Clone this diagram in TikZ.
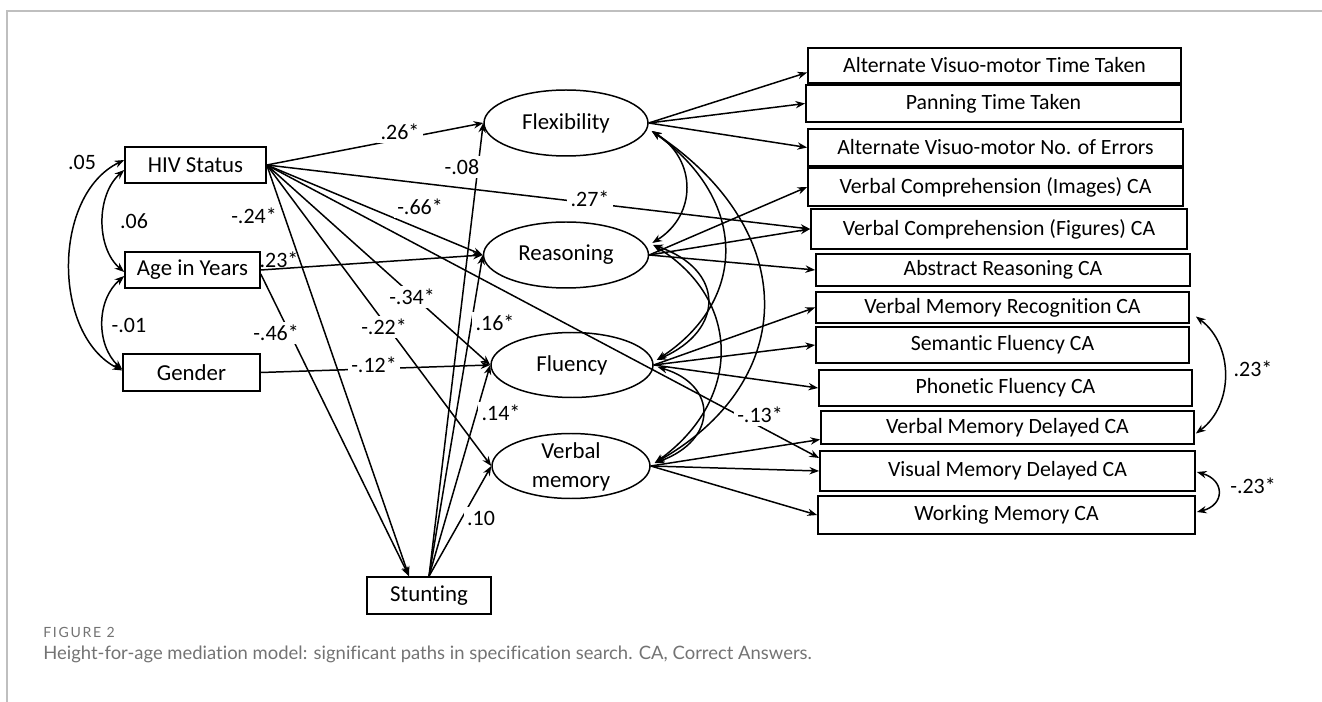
\documentclass[tikz,border=0pt]{standalone}
\usepackage{fontspec}
\setmainfont{Carlito}[RawFeature={-liga;-clig;-calt;-dlig}]
\newfontfamily\capfont{Lato}[RawFeature={-liga;-clig;-calt;-dlig}]
\newfontfamily\figfont{Lato}[LetterSpace=12]
\usetikzlibrary{arrows.meta,calc,shapes.geometric}
\begin{document}
\begin{tikzpicture}[x=0.02cm,y=-0.02cm,
  >={Stealth[length=5.5pt,width=4.2pt]},
  sz/.style 2 args={minimum width=#1*0.02cm,minimum height=#2*0.02cm},
  box/.style={draw,line width=1pt,inner sep=0pt,font=\fontsize{12.4}{14}\selectfont},
  lbox/.style={draw,line width=0.9pt,inner sep=0pt,font=\fontsize{13}{15}\selectfont},
  lat/.style={draw,ellipse,line width=0.85pt,inner sep=0pt,font=\fontsize{13}{16.5}\selectfont,align=center},
  arr/.style={->,line width=0.85pt},
  cov/.style={<->,line width=0.85pt},
  lab/.style={fill=white,inner sep=2pt,font=\fontsize{12.5}{14}\selectfont},
  labn/.style={inner sep=1pt,font=\fontsize{12.5}{14}\selectfont},
  frm/.style={draw=black!25,line width=0.9pt},
  captxt/.style={anchor=west,inner sep=0pt,text=black!55}
]
\useasboundingbox (0,0) rectangle (1322,702);
\draw[frm] (7,702) -- (7,11) -- (1322,11);

% exogenous boxes
\node[lbox,sz={141}{36}] (hiv) at (195.5,165) {HIV Status};
\node[lbox,sz={135}{36}] (age) at (192.5,270) {Age in Years};
\node[lbox,sz={137}{37}] (gen) at (191.5,372.5) {Gender};
\node[lbox,sz={124}{37}] (stunt) at (429,595.5) {Stunting};

% latent variables
\node[lat,sz={164}{66}] (flex) at (566,123) {Flexibility};
\node[lat,sz={165}{66}] (reas) at (566,255) {Reasoning};
\node[lat,sz={162}{65}] (flu) at (572,365) {Fluency};
\node[lat,sz={158}{65}] (vm) at (571,466) {};
\node[font=\fontsize{13}{16.5}\selectfont,align=center,inner sep=0pt] (vmt) at (571,467) {Verbal\\memory};

% indicators
\node[box,sz={373}{35}] (avt) at (994.5,65.5) {Alternate Visuo-motor Time Taken};
\node[box,sz={375}{37}] (ptt) at (993.5,103.5) {Panning Time Taken};
\node[box,sz={375}{37}] (ave) at (995.5,147.5) {Alternate Visuo-motor No. of Errors};
\node[box,sz={375}{38}] (vci) at (995.5,187) {Verbal Comprehension (Images) CA};
\node[box,sz={376}{40}] (vcf) at (999,229) {Verbal Comprehension (Figures) CA};
\node[box,sz={374}{32}] (abr) at (1003,270) {Abstract Reasoning CA};
\node[box,sz={373}{31}] (vmr) at (1002.5,307.5) {Verbal Memory Recognition CA};
\node[box,sz={373}{36}] (sfc) at (1002.5,345) {Semantic Fluency CA};
\node[box,sz={373}{36}] (pfc) at (1005.5,388) {Phonetic Fluency CA};
\node[box,sz={373}{33}] (vmd) at (1007.5,427.5) {Verbal Memory Delayed CA};
\node[box,sz={375}{40}] (vis) at (1007.5,471) {Visual Memory Delayed CA};
\node[box,sz={377}{38}] (wmc) at (1006.5,515) {Working Memory CA};

\coordinate (stin) at ($(stunt.north)+(-20,0)$);

% covariances among exogenous
\draw[cov] ($(hiv.west)+(0,-5)$) .. controls (52,195) and (52,335) .. ($(gen.west)+(0,-2)$);
\draw[cov] ($(hiv.west)+(0,5)$) .. controls (96,195) and (96,248) .. ($(age.west)+(0,2)$);
\draw[cov] ($(age.west)+(0,6)$) .. controls (96,300) and (96,345) .. ($(gen.west)+(0,-3)$);

% structural paths
\draw[arr] (hiv.east) -- (flex.west);
\draw[arr] (hiv.east) -- (vcf.west);
\draw[arr] (hiv.east) -- (reas.west);
\draw[arr] (hiv.east) -- (flu.west);
\draw[arr] (hiv.east) -- (vm.west);
\draw[arr] (hiv.east) -- (stin);
\draw[arr] (hiv.east) -- ($(vis.west)+(0,-13)$);
\draw[arr] (age.east) -- (reas.west);
\draw[arr] ($(age.east)+(0,4)$) -- (stin);
\draw[arr] (gen.east) -- (flu.west);
\draw[arr] (stunt.north) -- (flex.west);
\draw[arr] (stunt.north) -- (reas.west);
\draw[arr] (stunt.north) -- (flu.west);
\draw[arr] (stunt.north) -- (vm.west);

% measurement paths
\draw[arr] (flex.east) -- ($(avt.west)+(0,7)$);
\draw[arr] (flex.east) -- (ptt.west);
\draw[arr] (flex.east) -- (ave.west);
\draw[arr] (reas.east) -- (vci.west);
\draw[arr] (reas.east) -- (vcf.west);
\draw[arr] (reas.east) -- (abr.west);
\draw[arr] (flu.east) -- (vmr.west);
\draw[arr] (flu.east) -- (sfc.west);
\draw[arr] (flu.east) -- (pfc.west);
\draw[arr] (vm.east) -- ($(vmd.west)+(0,12)$);
\draw[arr] (vm.east) -- (vis.west);
\draw[arr] (vm.east) -- (wmc.west);

% covariances among latents
\draw[cov] ($(flex.east)+(3,8)$) .. controls (697,160) and (697,215) .. ($(reas.east)+(3,-12)$);
\draw[cov] ($(flex.east)+(3,8)$) .. controls (748,200) and (748,300) .. ($(flu.east)+(3,-5)$);
\draw[cov] ($(flex.east)+(3,8)$) .. controls (800,230) and (800,380) .. ($(vm.east)+(4,-3)$);
\draw[cov] ($(reas.east)+(4,-10)$) .. controls (725,270) and (725,330) .. ($(flu.east)+(3,-5)$);
\draw[cov] ($(reas.east)+(4,-10)$) .. controls (742,300) and (742,400) .. ($(vm.east)+(4,-3)$);
\draw[cov] ($(flu.east)+(4,2)$) .. controls (718,385) and (718,440) .. ($(vm.east)+(4,-3)$);

% residual covariances
\draw[cov] ($(vmr.east)+(6,9)$) .. controls (1234,345) and (1234,405) .. ($(vmd.east)+(1,6)$);
\draw[cov] ($(vis.east)+(1,1)$) .. controls (1225,480) and (1225,505) .. ($(wmc.east)+(1,-3)$);

% coefficient labels
\node[labn] (l05) at (82,162) {.05};
\node[labn] (l06) at (134,221) {.06};
\node[labn] (l01) at (129,325) {-.01};
\node[lab] (l26) at (400,132) {.26*};
\node[lab] (l08) at (462,167) {-.08};
\node[lab] (l27) at (590,199) {.27*};
\node[lab] (l66) at (420,207) {-.66*};
\node[lab] (l24) at (254,216) {-.24*};
\node[labn] (l23) at (279,260) {.23*};
\node[lab] (l34) at (412,297) {-.34*};
\node[lab] (l16) at (495,323) {.16*};
\node[lab] (l46) at (276,333) {-.46*};
\node[lab] (l22) at (384,327) {-.22*};
\node[lab] (l12) at (374,365) {-.12*};
\node[lab] (l14) at (501,413) {.14*};
\node[lab] (l13) at (760,415) {-.13*};
\node[lab] (l10) at (481,518) {.10};
\node[labn] (r23) at (1253,369) {.23*};
\node[labn] (r23n) at (1253,486) {-.23*};

% caption
\node[captxt,font=\figfont\fontsize{8}{9}\selectfont] (fig) at (43,632) {FIGURE 2};
\node[captxt,font=\capfont\fontsize{10.5}{12}\selectfont] (cap) at (43,654) {Height-for-age mediation model: significant paths in specification search. CA, Correct Answers.};
\end{tikzpicture}
\end{document}
